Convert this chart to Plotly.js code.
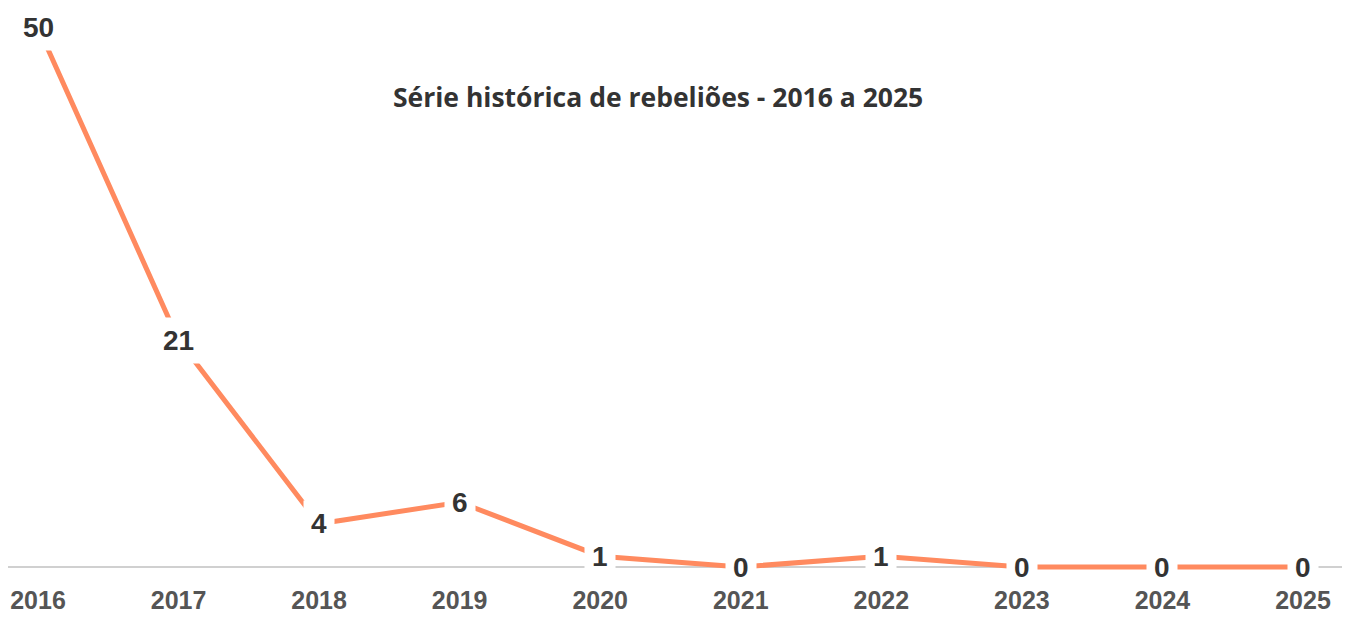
<!DOCTYPE html>
<html>
<head>
<meta charset="utf-8">
<script src="https://cdn.plot.ly/plotly-3.0.1.min.js"></script>
<style>html,body{margin:0;padding:0;background:#fff;}#chart{width:1350px;height:617px;}</style>
</head>
<body>
<div id="chart"></div>
<script>
const years = [2016, 2017, 2018, 2019, 2020, 2021, 2022, 2023, 2024, 2025];
const rebelioes = [50, 21, 4, 6, 1, 0, 1, 0, 0, 0];
const tickLabels = ["2016", "2017", "2018", "2019", "2020", "2021", "2022", "2023", "2024", "2025"];
const titleText = "Série histórica de rebeliões - 2016 a 2025";

const trace = {
  x: years,
  y: rebelioes,
  type: 'scatter',
  mode: 'lines',
  line: {color: '#FF8A5F', width: 5},
  cliponaxis: false,
  hoverinfo: 'skip'
};

const annotations = years.map((yr, i) => ({
  x: yr, y: rebelioes[i], xref: 'x', yref: 'y',
  text: String(rebelioes[i]),
  showarrow: false,
  bgcolor: '#ffffff',
  borderpad: 7,
  font: {family: 'Liberation Sans, Arial, sans-serif', size: 28, color: '#333333', weight: 'bold'},
  xanchor: 'center', yanchor: 'middle'
}));

annotations.push({
  xref: 'paper', yref: 'paper',
  x: (658 - 8)/1334, y: 1 - (97 - 10)/567,
  text: '<b>' + titleText + '</b>',
  showarrow: false,
  font: {family: 'Open Sans, Noto Sans, sans-serif', size: 26.5, color: '#333333'},
  xanchor: 'center', yanchor: 'middle'
});

const layout = {
  width: 1350, height: 617,
  margin: {l: 8, r: 8, t: 10, b: 40},
  paper_bgcolor: '#ffffff', plot_bgcolor: '#ffffff',
  showlegend: false,
  xaxis: {
    range: [2016 - 30/140.56, 2025 + 39/140.56],
    tickvals: years, ticktext: tickLabels,
    showgrid: false, zeroline: false, showline: false,
    ticks: 'outside', ticklen: 1, tickcolor: 'rgba(0,0,0,0)',
    tickfont: {family: 'Liberation Sans, Arial, sans-serif', size: 25, color: '#555555', weight: 'bold'},
    fixedrange: true
  },
  yaxis: {
    range: [-10/10.8, 50 + 17/10.8],
    showgrid: false, showticklabels: false, showline: false,
    zeroline: true, zerolinecolor: '#d0d0d0', zerolinewidth: 1.5,
    fixedrange: true
  },
  annotations: annotations
};

Plotly.newPlot('chart', [trace], layout, {displayModeBar: false, staticPlot: true});
</script>
</body>
</html>
